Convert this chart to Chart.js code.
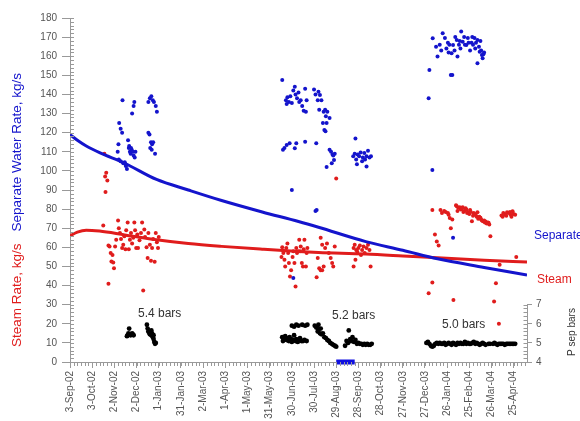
<!DOCTYPE html>
<html>
<head>
<meta charset="utf-8">
<script src="https://cdn.jsdelivr.net/npm/chart.js@4/dist/chart.umd.min.js"></script>
<style>
  html, body { margin: 0; padding: 0; background: #fff; }
  #wrap { width: 580px; height: 421px; position: relative; }
</style>
</head>
<body>
<div id="wrap"><canvas id="chart"></canvas></div>
<script>
// x values are days counted from 3-Sep-02, one tick label every 30 days
const dateLabels = ['3-Sep-02', '3-Oct-02', '2-Nov-02', '2-Dec-02', '1-Jan-03', '31-Jan-03', '2-Mar-03',
  '1-Apr-03', '1-May-03', '31-May-03', '30-Jun-03', '30-Jul-03', '29-Aug-03', '28-Sep-03', '28-Oct-03',
  '27-Nov-03', '27-Dec-03', '26-Jan-04', '25-Feb-04', '26-Mar-04', '25-Apr-04'];

// fitted trend curves
const trendDays  = [0, 10, 22, 40, 74, 117, 160, 205, 260, 309, 336, 400, 450, 497, 560, 618];
const waterTrend = [119, 116, 113, 109.5, 104, 95.5, 90, 84.5, 78.5, 73.5, 70.5, 63, 58.5, 54, 49.5, 45.5];
const steamTrend = [66, 68, 69, 68.5, 66.5, 64, 62, 60.5, 59, 57.8, 57.3, 56.5, 55.5, 54.5, 53.3, 52.3];

// separate water rate, kg/s  [day, value]
const waterPts = [
  [64.5,110],[65.5,114],[66.5,125],[68.5,122],[70.5,120],[66,106],[68.5,105],[72,104],[74,104],[76,103],
  [77,101],[71,137],[78.5,116],[79.5,112],[81,110],[82,109],[83.5,111],[85,110],[84,130],[86,134],[87,136],
  [88.5,110],[87.5,107],[80,113],[82.5,112],[86,108],[74,104.5],[75.5,102.5],
  [106,120],[107.5,119],[109.5,115],[111,114],[112.5,115],[108.5,112],[110.5,111],[115,109],[106,136],
  [108,138],[110,139],[112,137],[113.5,136],[116,134],[117.5,131],
  [287,147.5],[292,137],[293,135],[294,138.5],[296,136],[298,139],[300,135.5],[302,142],[304,144],[305,140],
  [307,138],[309,141],[310,136],[312,137],[314,134],[316,131.5],[318,143],[319,131],[320,137],
  [288,111],[290,112],[293,113.6],[297,114.4],[304,111.8],[306,114.4],[318,115.3],[333,114.4],
  [300,90],[332,79],[333.5,79.5],[302,44],
  [330,142.6],[332,140],[335,137],[336,141.4],[337,132],[338,139.7],[340,137],[342,125],[343,131],[344,121.4],
  [345,132],[345.5,120.7],[346,128.6],[347,125],[348,131],[351,127.7],[347,102],[351,111],[353,110],[354,104],
  [355,108.6],[356,108],[357,105.7],[358,109],
  [383,107.7],[385,109],[386,117],[387,106],[388,103.5],[389,108.6],[391,107.7],[393,109.6],[395,105],[396,107],
  [398,109.3],[399,106],[401,107.7],[401,102.3],[403,110.5],[405,107],[407,107.7],
  [485,138],[486,152.8],[490,100.5],[490.5,169.4],[495,165],[497,159.8],[500,166],[502,163],[504,172],
  [507,169.5],[507,182.5],[509,164],[511,167],[512,162],[513,166],[515,150.2],[516,161.5],[517,150.2],
  [518,165.9],[518,65],[520,163],[521,170],[523,168.5],[524,159.8],[526,166],[527,168],[528,164],[529,172.9],
  [531,167.6],[533,170],[534,166],[536,165.9],[538,169.5],[539,167],[540,182.5],[541,163],[543,167],[544,170],
  [545,166],[547,169.5],[548,164],[549,167],[551,168.5],[551,156.3],[553,165],[554,162.4],[555,168],
  [556,163],[557,160.6],[558,159],[559,161],[560,162]
];

// steam rate, kg/s  [day, value]
const steamPts = [
  [45,71.4],[46.5,109],[47.5,97],[49,99],[50.5,95],[48,89],[52,61],[53.5,60.5],[55,57],[56,52.6],[58.5,52],
  [59.5,49],[52,41],[57.5,56],[61,60.5],[62.5,64],[65,74],[66,70],[67.5,67.5],[69,64.4],[70.5,59.6],[72,61.4],
  [73.5,65.8],[75,59],[76,69],[78,73],[79.5,59],[81,64],[82.5,67.5],[84,62],[85.5,65],[87,73],[88,69],
  [89.5,59.6],[91,66.7],[92,59.6],[94,63.7],[96,67.5],[97.5,73],[99,37.4],[100.5,69.3],[101.5,65.4],
  [103.5,60],[105,54.4],[106,67.5],[108,61.4],[109.5,53],[111,59.6],[112.5,64.4],[114.5,52.5],[116,67.5],
  [117.5,62.6],[119,59.6],[120,65.4],
  [286,55],[287,60],[288.5,57],[289,58],[290,53.5],[291,50],[292.5,59.6],[294,62],[295,57],[296,51.8],
  [297.5,44.7],[299,48],[301,55],[302,58],[303.5,51.8],[305,39.5],[306,59.6],[307,57],[308.5,58],[310,64],
  [311,58],[312,60.5],[313.5,51.8],[315,50],[316,59],[317,64],[319,50],[320,57],[321,59.6],
  [333.5,44.4],[335,54.4],[337,49],[339,48],[339,65],[341,48],[341,61.4],[343,50],[345,59.6],[347.5,62],
  [350,57],[352.5,54.4],[354.5,51.8],[356,50],[358,60.5],[360,96],
  [383.5,59.6],[383.5,50],[385,61.4],[386,53.5],[387,58.6],[388.5,57.7],[390,59.6],[392,60.9],[393.5,56],
  [395,58.6],[397,60.5],[398.5,57],[401,59.6],[403,61.4],[405,58.6],[406.5,50],
  [485,36],[490,41.6],[490,79.5],[493.5,66.7],[496,63],[498.5,61],[501,79.5],[503,78],[506,79],[508,78.5],
  [511,78],[512,77],[513.5,75.4],[515,70],[517,74.6],[518.5,32.5],[522,82],[523,81.5],[524,79],[525,80.7],
  [527,81],[528.5,79.8],[530,80],[531,81],[532,78.5],[533.5,79],[535,80.5],[536,79.8],[537,78],[538.5,78.4],
  [540,77.5],[541,79.5],[542,78.5],[543.5,73.7],[545,76.5],[546,78],[547,77.5],[548.5,77],[550,76],
  [551,78.4],[552,75],[553.5,76],[555,75.5],[556,74.6],[557,74],[558.5,73.7],[560,74],[561,73],[562,73.5],
  [563.5,72.5],[565,73],[566,72.8],[567,72],[568.5,65.8],[573.5,31.6],[576,41.2],[580,20],[581,50.9],
  [583.5,76.7],[585,76],[586,78],[588.5,77],[590,76.5],[591,78.4],[593.5,78],[595,78.5],[596,77],[597,76],
  [598.5,78.9],[600,77.5],[602,77],[603.5,55]
];

// separator pressure, bar  [day, value]
const psepPts = [
  [77,5.35],[78,5.4],[79,5.5],[80,5.75],[81,5.45],[82,5.4],[83,5.45],[84,5.5],[85,5.45],[86,5.4],
  [104,5.95],[105,5.75],[106,5.6],[107,5.55],[108,5.45],[109,5.5],[110,5.4],[110,5.65],[111,5.5],[112,5.3],
  [113,5.2],[113,5.4],[114,5.05],[115,4.95],[116,5.0],
  [287,5.3],[288,5.1],[290,5.2],[291,5.35],[293,5.15],[294,5.25],[296,5.1],[297,5.3],[299,5.2],[300,5.05],
  [302,5.15],[303,5.4],[305,5.1],[306,5.2],[308,5.05],[310,5.15],[311,5.25],[313,5.1],[315,5.1],[317,5.15],
  [320,5.1],[300,5.9],[303,5.85],[306,5.95],[309,5.9],[314,5.95],[318,5.9],[321,5.95],
  [331,5.9],[333,5.8],[335,5.6],[336,5.7],[336,5.95],[338,5.5],[339,5.75],[340,5.45],[342,5.5],[344,5.3],
  [346,5.25],[348,5.15],[350,5.1],[352,5.0],[354,4.95],[356,4.9],[358,4.85],[360,4.8],
  [372,4.85],[374,5.1],[376,5.0],[377,5.65],[379,5.2],[380,5.1],[382,5.3],[384,5.05],[386,5.15],[388,4.95],
  [390,5.0],[392,4.95],[394,4.95],[396,4.9],[398,4.95],[400,4.9],[402,4.95],[404,4.9],[406,4.9],[408,4.95],
  [482,5.0],[484,5.05],[486,4.95],[488,4.85],[490,4.8],[492,4.85],[494,4.95],[496,5.0],[498,4.95],[500,5.0],
  [502,4.95],[504,4.95],[506,5.0],[508,4.9],[510,4.95],[512,5.0],[514,4.95],[516,4.9],[518,5.0],[520,4.95],
  [522,4.9],[524,5.0],[526,4.95],[528,5.0],[530,4.95],[532,4.95],[534,5.05],[536,4.95],[538,5.0],[540,4.95],
  [542,4.95],[544,5.0],[546,5.05],[548,4.95],[550,5.0],[552,4.95],[554,4.9],[556,4.95],[558,5.0],[560,4.95],
  [562,4.9],[566,4.95],[568,4.95],[572,4.95],[574,5.0],[576,4.95],[578,4.9],[580,4.95],[582,4.95],[584,4.95],
  [586,4.95],[588,4.9],[590,4.95],[592,4.95],[594,4.95],[596,4.95],[598,4.95],[600,4.95],[602,4.95]
];

// period marked on the time axis
const markDays = [360, 385];

const FONT = 'Liberation Sans, Arial, sans-serif';
const BLUE = '#1414cc';
const RED = '#e01c1c';
const AXIS = '#999';

const toXY = pts => pts.map(p => ({ x: p[0], y: p[1] }));

// minor ticks, little P axis and the free text labels
const extras = {
  id: 'extras',
  afterDraw(chart) {
    const { ctx, chartArea: a, scales: { x, y, p } } = chart;
    ctx.save();
    ctx.strokeStyle = AXIS;
    ctx.lineWidth = 1;
    ctx.beginPath();
    for (let v = 0; v <= 180; v += 2) {
      const py = Math.round(y.getPixelForValue(v)) + 0.5;
      ctx.moveTo(a.left, py); ctx.lineTo(a.left + 4, py);
    }
    for (let d = 0; d <= 615; d += 5) {
      const px = Math.round(x.getPixelForValue(d)) + 0.5;
      ctx.moveTo(px, a.bottom); ctx.lineTo(px, a.bottom + 4);
    }
    const rx = Math.round(a.right) + 0.5;
    ctx.moveTo(rx, p.getPixelForValue(4)); ctx.lineTo(rx, p.getPixelForValue(7));
    for (let i = 0; i <= 15; i++) {
      const py = Math.round(p.getPixelForValue(4 + i * 0.2)) + 0.5;
      ctx.moveTo(rx - 4, py); ctx.lineTo(rx, py);
    }
    ctx.stroke();

    // y axis title in two colours
    ctx.font = '13.5px ' + FONT;
    ctx.textBaseline = 'middle';
    ctx.translate(17, 347);
    ctx.rotate(-Math.PI / 2);
    ctx.textAlign = 'left';
    ctx.fillStyle = RED;
    const t1 = 'Steam Rate, kg/s';
    ctx.fillText(t1, 0, 0);
    ctx.fillStyle = BLUE;
    ctx.fillText('Separate Water Rate, kg/s', ctx.measureText(t1).width + 12, 0);
    ctx.setTransform(1, 0, 0, 1, 0, 0);

    ctx.font = '10px ' + FONT;
    ctx.fillStyle = '#333';
    ctx.translate(572, 332);
    ctx.rotate(-Math.PI / 2);
    ctx.textAlign = 'center';
    ctx.fillText('P sep bars', 0, 0);
    ctx.setTransform(1, 0, 0, 1, 0, 0);

    ctx.font = '12px ' + FONT;
    ctx.textAlign = 'left';
    ctx.fillStyle = BLUE;
    ctx.fillText('Separate', 534, 236);
    ctx.fillStyle = RED;
    ctx.fillText('Steam', 537, 280);
    ctx.fillStyle = '#333';
    ctx.fillText('5.4 bars', 138, 314);
    ctx.fillText('5.2 bars', 332, 316);
    ctx.fillText('5.0 bars', 442, 325);
    ctx.restore();
  }
};

new Chart(document.getElementById('chart'), {
  type: 'scatter',
  data: {
    datasets: [
      {
        label: 'Separate Water trend',
        data: trendDays.map((d, i) => ({ x: d, y: waterTrend[i] })),
        showLine: true, borderColor: BLUE, borderWidth: 3, pointRadius: 0,
        cubicInterpolationMode: 'monotone', yAxisID: 'y'
      },
      {
        label: 'Steam trend',
        data: trendDays.map((d, i) => ({ x: d, y: steamTrend[i] })),
        showLine: true, borderColor: RED, borderWidth: 3, pointRadius: 0,
        cubicInterpolationMode: 'monotone', yAxisID: 'y'
      },
      {
        label: 'period',
        data: markDays.map(d => ({ x: d, y: 0 })),
        showLine: true, borderColor: '#1010e0', borderWidth: 5, pointRadius: 0,
        borderCapStyle: 'butt', clip: false, yAxisID: 'y'
      },
      {
        label: 'Separate Water Rate',
        data: toXY(waterPts),
        pointRadius: 2, pointBorderWidth: 0, backgroundColor: BLUE, clip: false, yAxisID: 'y'
      },
      {
        label: 'Steam Rate',
        data: toXY(steamPts),
        pointRadius: 2, pointBorderWidth: 0, backgroundColor: RED, clip: false, yAxisID: 'y'
      },
      {
        label: 'P sep',
        data: toXY(psepPts),
        pointRadius: 2.4, pointBorderWidth: 0, backgroundColor: '#000', yAxisID: 'p'
      }
    ]
  },
  options: {
    responsive: true,
    maintainAspectRatio: false,
    animation: false,
    layout: { padding: { top: 18, left: 0, right: 0, bottom: 0 } },
    plugins: { legend: { display: false }, tooltip: { enabled: false } },
    scales: {
      x: {
        type: 'linear', position: 'bottom', min: 0, max: 618,
        afterFit: s => { s.height = 59; },
        border: { color: AXIS },
        grid: { drawOnChartArea: false, tickLength: 6, color: AXIS },
        ticks: {
          stepSize: 30, includeBounds: false, autoSkip: false, maxRotation: 90, minRotation: 90,
          padding: 3, color: '#555', font: { family: FONT, size: 10 },
          callback: v => dateLabels[v / 30] || ''
        }
      },
      y: {
        position: 'left', min: 0, max: 180,
        afterFit: s => { s.width = 70; },
        border: { color: AXIS },
        grid: { drawOnChartArea: false, tickLength: 8, color: AXIS },
        ticks: { stepSize: 10, padding: 5, color: '#555', font: { family: FONT, size: 10 } }
      },
      p: {
        position: 'right', min: 4, max: 22,
        afterFit: s => { s.width = 53; },
        border: { display: false },
        grid: {
          drawOnChartArea: false, tickLength: 5,
          color: c => (c.tick && c.tick.value <= 7 ? AXIS : 'rgba(0,0,0,0)')
        },
        ticks: {
          stepSize: 1, padding: 4, color: '#555', font: { family: FONT, size: 10 },
          callback: v => (v <= 7 ? v : '')
        }
      }
    }
  },
  plugins: [extras]
});
</script>
</body>
</html>
